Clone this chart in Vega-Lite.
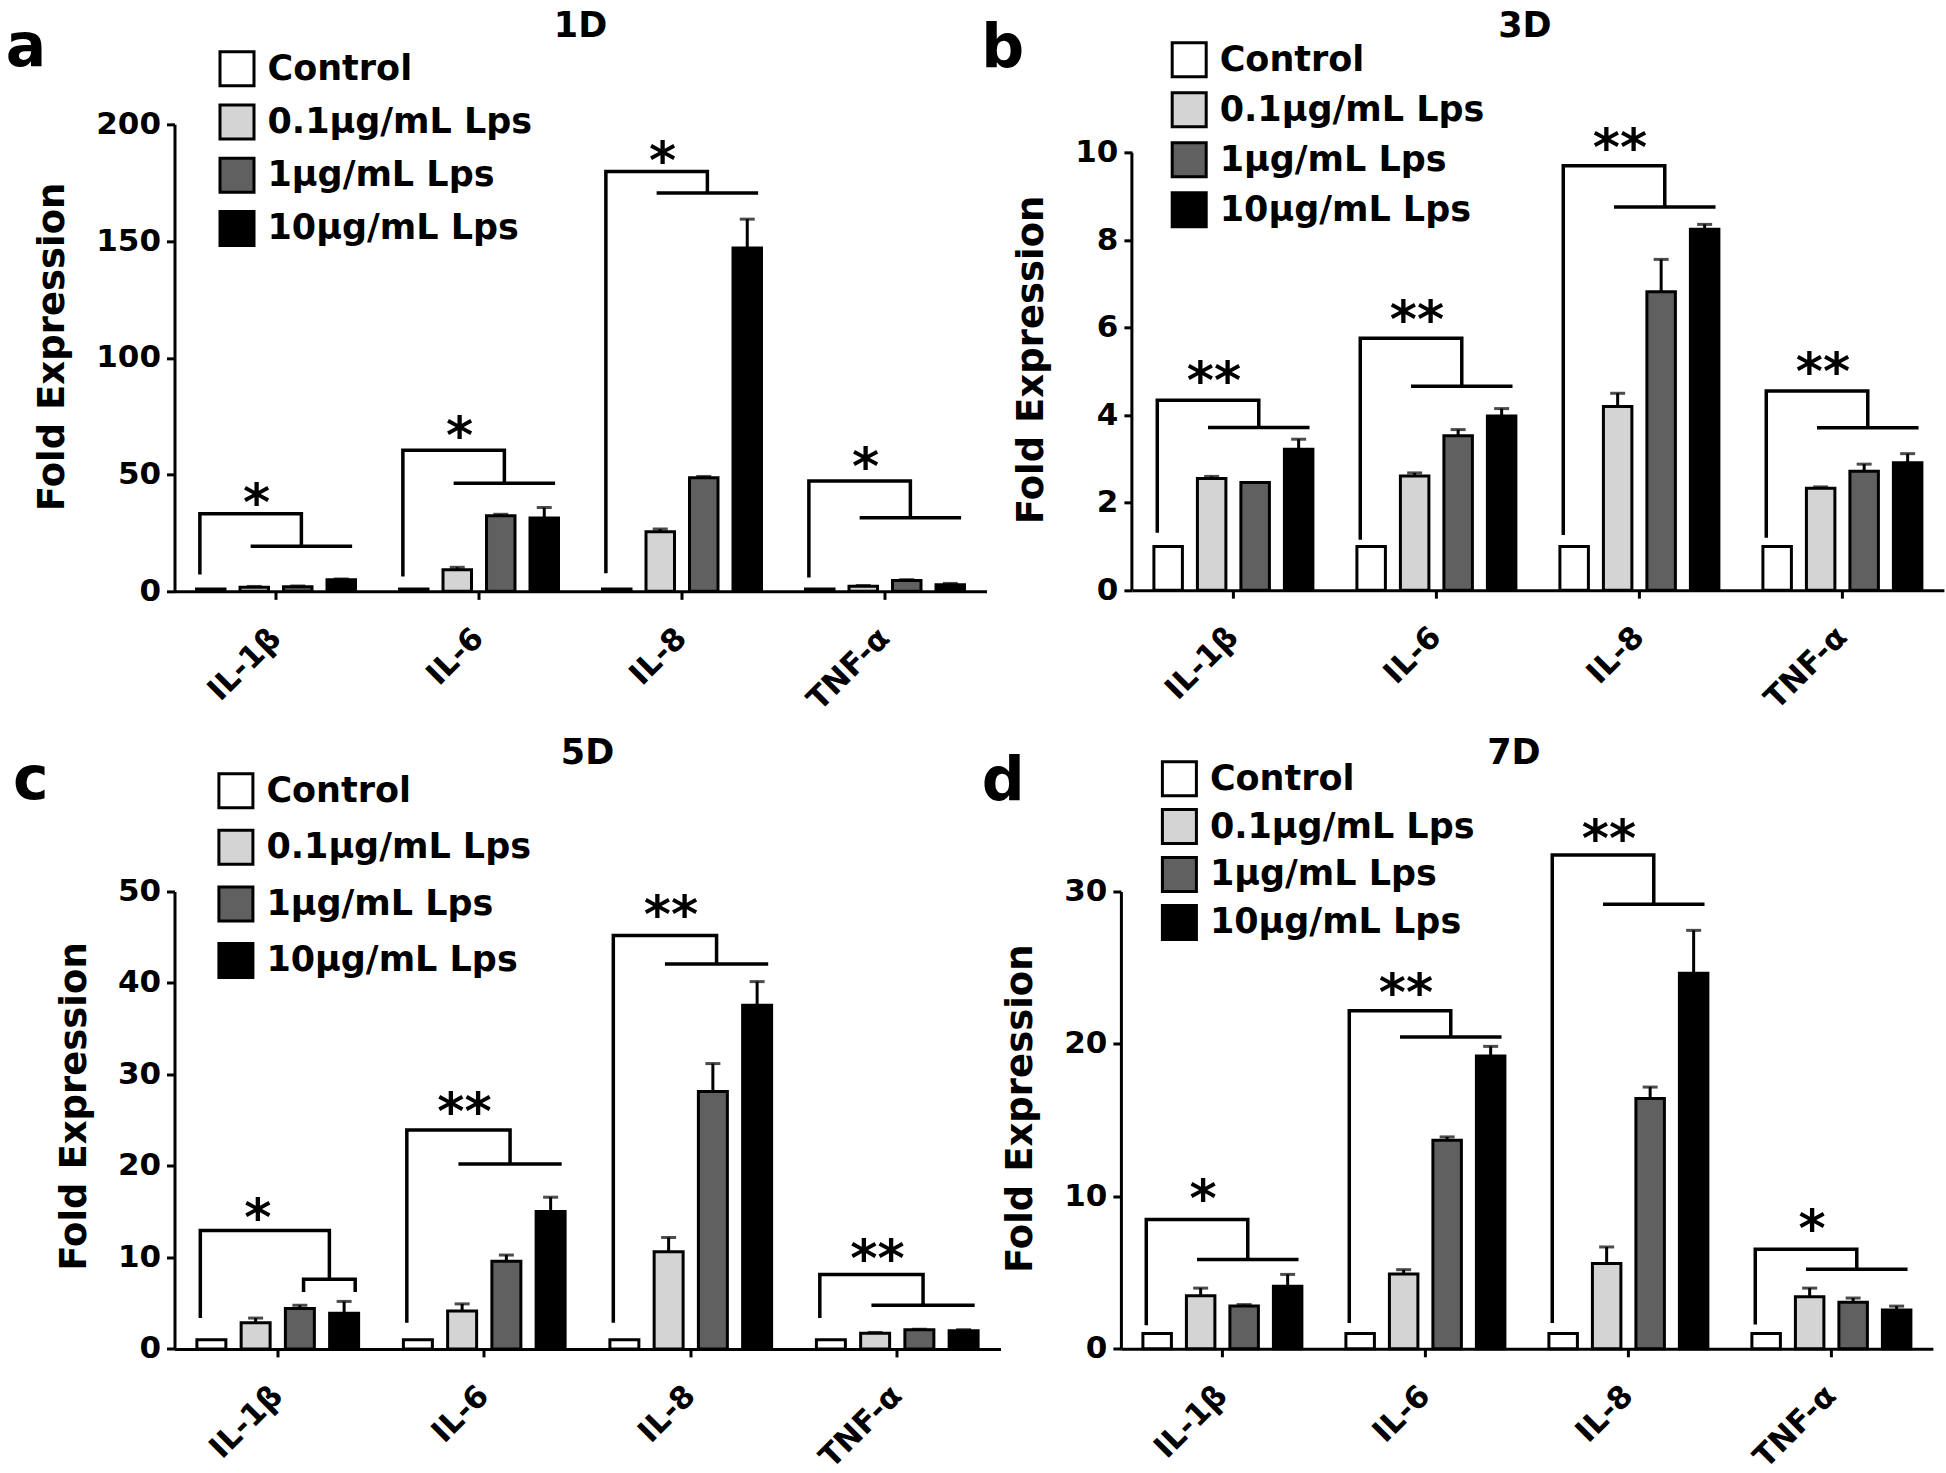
{
"$schema": "https://vega.github.io/schema/vega-lite/v6.json",
"background": "white",
"padding": {"left": 5.5, "top": 8.35, "right": 5, "bottom": 5},
"autosize": {"type": "pad"},
"config": {
  "view": {"stroke": null},
  "font": "DejaVu Sans",
  "axis": {"labelFont": "DejaVu Sans", "labelFontWeight": "bold", "labelFontSize": 31, "labelColor": "black", "titleFont": "DejaVu Sans", "titleFontWeight": "bold", "titleFontSize": 37, "titleColor": "black", "domainColor": "black", "domainWidth": 3, "tickColor": "black", "tickWidth": 3, "tickSize": 8, "grid": false},
  "axisX": {"labelAngle": -45, "labelPadding": 34, "labelBaseline": "middle", "labelAlign": "right"},
  "axisY": {"titlePadding": 24, "labelPadding": 6},
  "title": {"font": "DejaVu Sans", "fontWeight": "bold", "fontSize": 35, "color": "black"},
  "legend": {"labelFont": "DejaVu Sans", "labelFontSize": 35, "labelFontWeight": "bold", "labelColor": "black", "labelLimit": 600, "symbolType": "square", "symbolSize": 1156, "symbolStrokeColor": "black", "symbolStrokeWidth": 3, "labelOffset": 12, "padding": 0, "symbolOpacity": 1}
},
"resolve": {"scale": {"fill": "independent"}, "legend": {"fill": "independent"}},
"datasets": {
  "bA": [
    {"k":"IL-1β","g":"Control","v":1,"e":1},{"k":"IL-1β","g":"0.1μg/mL Lps","v":1.8,"e":2.1},{"k":"IL-1β","g":"1μg/mL Lps","v":2.0,"e":2.3},{"k":"IL-1β","g":"10μg/mL Lps","v":5.0,"e":5.3},
    {"k":"IL-6","g":"Control","v":1,"e":1},{"k":"IL-6","g":"0.1μg/mL Lps","v":9.3,"e":10.3},{"k":"IL-6","g":"1μg/mL Lps","v":32.4,"e":33.0},{"k":"IL-6","g":"10μg/mL Lps","v":31.4,"e":35.9},
    {"k":"IL-8","g":"Control","v":1,"e":1},{"k":"IL-8","g":"0.1μg/mL Lps","v":25.5,"e":26.7},{"k":"IL-8","g":"1μg/mL Lps","v":48.7,"e":49.2},{"k":"IL-8","g":"10μg/mL Lps","v":147.0,"e":159.4},
    {"k":"TNF-α","g":"Control","v":1,"e":1},{"k":"TNF-α","g":"0.1μg/mL Lps","v":2.2,"e":2.5},{"k":"TNF-α","g":"1μg/mL Lps","v":4.6,"e":5.0},{"k":"TNF-α","g":"10μg/mL Lps","v":2.8,"e":3.4}
  ],
  "bB": [
    {"k":"IL-1β","g":"Control","v":1,"e":1},{"k":"IL-1β","g":"0.1μg/mL Lps","v":2.55,"e":2.6},{"k":"IL-1β","g":"1μg/mL Lps","v":2.46,"e":2.46},{"k":"IL-1β","g":"10μg/mL Lps","v":3.22,"e":3.45},
    {"k":"IL-6","g":"Control","v":1,"e":1},{"k":"IL-6","g":"0.1μg/mL Lps","v":2.61,"e":2.68},{"k":"IL-6","g":"1μg/mL Lps","v":3.53,"e":3.67},{"k":"IL-6","g":"10μg/mL Lps","v":3.98,"e":4.15},
    {"k":"IL-8","g":"Control","v":1,"e":1},{"k":"IL-8","g":"0.1μg/mL Lps","v":4.2,"e":4.5},{"k":"IL-8","g":"1μg/mL Lps","v":6.82,"e":7.56},{"k":"IL-8","g":"10μg/mL Lps","v":8.25,"e":8.36},
    {"k":"TNF-α","g":"Control","v":1,"e":1},{"k":"TNF-α","g":"0.1μg/mL Lps","v":2.33,"e":2.36},{"k":"TNF-α","g":"1μg/mL Lps","v":2.72,"e":2.88},{"k":"TNF-α","g":"10μg/mL Lps","v":2.91,"e":3.12}
  ],
  "bC": [
    {"k":"IL-1β","g":"Control","v":1,"e":1},{"k":"IL-1β","g":"0.1μg/mL Lps","v":2.85,"e":3.37},{"k":"IL-1β","g":"1μg/mL Lps","v":4.41,"e":4.77},{"k":"IL-1β","g":"10μg/mL Lps","v":3.89,"e":5.19},
    {"k":"IL-6","g":"Control","v":1,"e":1},{"k":"IL-6","g":"0.1μg/mL Lps","v":4.14,"e":4.92},{"k":"IL-6","g":"1μg/mL Lps","v":9.59,"e":10.26},{"k":"IL-6","g":"10μg/mL Lps","v":15.03,"e":16.58},
    {"k":"IL-8","g":"Control","v":1,"e":1},{"k":"IL-8","g":"0.1μg/mL Lps","v":10.63,"e":12.18},{"k":"IL-8","g":"1μg/mL Lps","v":28.14,"e":31.19},{"k":"IL-8","g":"10μg/mL Lps","v":37.56,"e":40.15},
    {"k":"TNF-α","g":"Control","v":1,"e":1},{"k":"TNF-α","g":"0.1μg/mL Lps","v":1.72,"e":1.8},{"k":"TNF-α","g":"1μg/mL Lps","v":2.08,"e":2.15},{"k":"TNF-α","g":"10μg/mL Lps","v":1.97,"e":2.1}
  ],
  "bD": [
    {"k":"IL-1β","g":"Control","v":1,"e":1},{"k":"IL-1β","g":"0.1μg/mL Lps","v":3.48,"e":3.98},{"k":"IL-1β","g":"1μg/mL Lps","v":2.8,"e":2.9},{"k":"IL-1β","g":"10μg/mL Lps","v":4.1,"e":4.88},
    {"k":"IL-6","g":"Control","v":1,"e":1},{"k":"IL-6","g":"0.1μg/mL Lps","v":4.91,"e":5.19},{"k":"IL-6","g":"1μg/mL Lps","v":13.68,"e":13.9},{"k":"IL-6","g":"10μg/mL Lps","v":19.21,"e":19.84},
    {"k":"IL-8","g":"Control","v":1,"e":1},{"k":"IL-8","g":"0.1μg/mL Lps","v":5.6,"e":6.68},{"k":"IL-8","g":"1μg/mL Lps","v":16.42,"e":17.17},{"k":"IL-8","g":"10μg/mL Lps","v":24.63,"e":27.45},
    {"k":"TNF-α","g":"Control","v":1,"e":1},{"k":"TNF-α","g":"0.1μg/mL Lps","v":3.42,"e":3.98},{"k":"TNF-α","g":"1μg/mL Lps","v":3.05,"e":3.33},{"k":"TNF-α","g":"10μg/mL Lps","v":2.55,"e":2.8}
  ],
  "lA": [
    {"k":"IL-1β","s":"c","v":7.2,"seg":"1a","o":0},{"k":"IL-1β","s":"c","v":33.2,"seg":"1a","o":1},{"k":"IL-1β","s":"1","v":33.2,"seg":"1a","o":2},{"k":"IL-1β","s":"1","v":19.3,"seg":"1a","o":3},
    {"k":"IL-1β","s":"0.1","v":19.3,"seg":"1b","o":0},{"k":"IL-1β","s":"10","v":19.3,"seg":"1b","o":1},
    {"k":"IL-6","s":"c","v":6.4,"seg":"2a","o":0},{"k":"IL-6","s":"c","v":60.4,"seg":"2a","o":1},{"k":"IL-6","s":"1","v":60.4,"seg":"2a","o":2},{"k":"IL-6","s":"1","v":46.3,"seg":"2a","o":3},
    {"k":"IL-6","s":"0.1","v":46.3,"seg":"2b","o":0},{"k":"IL-6","s":"10","v":46.3,"seg":"2b","o":1},
    {"k":"IL-8","s":"c","v":7.8,"seg":"3a","o":0},{"k":"IL-8","s":"c","v":179.8,"seg":"3a","o":1},{"k":"IL-8","s":"1","v":179.8,"seg":"3a","o":2},{"k":"IL-8","s":"1","v":170.6,"seg":"3a","o":3},
    {"k":"IL-8","s":"0.1","v":170.6,"seg":"3b","o":0},{"k":"IL-8","s":"10","v":170.6,"seg":"3b","o":1},
    {"k":"TNF-α","s":"c","v":5.9,"seg":"4a","o":0},{"k":"TNF-α","s":"c","v":47.3,"seg":"4a","o":1},{"k":"TNF-α","s":"1","v":47.3,"seg":"4a","o":2},{"k":"TNF-α","s":"1","v":31.5,"seg":"4a","o":3},
    {"k":"TNF-α","s":"0.1","v":31.5,"seg":"4b","o":0},{"k":"TNF-α","s":"10","v":31.5,"seg":"4b","o":1}
  ],
  "lB": [
    {"k":"IL-1β","s":"c","v":1.31,"seg":"1a","o":0},{"k":"IL-1β","s":"c","v":4.34,"seg":"1a","o":1},{"k":"IL-1β","s":"1","v":4.34,"seg":"1a","o":2},{"k":"IL-1β","s":"1","v":3.72,"seg":"1a","o":3},
    {"k":"IL-1β","s":"0.1","v":3.72,"seg":"1b","o":0},{"k":"IL-1β","s":"10","v":3.72,"seg":"1b","o":1},
    {"k":"IL-6","s":"c","v":1.15,"seg":"2a","o":0},{"k":"IL-6","s":"c","v":5.76,"seg":"2a","o":1},{"k":"IL-6","s":"1","v":5.76,"seg":"2a","o":2},{"k":"IL-6","s":"1","v":4.66,"seg":"2a","o":3},
    {"k":"IL-6","s":"0.1","v":4.66,"seg":"2b","o":0},{"k":"IL-6","s":"10","v":4.66,"seg":"2b","o":1},
    {"k":"IL-8","s":"c","v":1.26,"seg":"3a","o":0},{"k":"IL-8","s":"c","v":9.7,"seg":"3a","o":1},{"k":"IL-8","s":"1","v":9.7,"seg":"3a","o":2},{"k":"IL-8","s":"1","v":8.76,"seg":"3a","o":3},
    {"k":"IL-8","s":"0.1","v":8.76,"seg":"3b","o":0},{"k":"IL-8","s":"10","v":8.76,"seg":"3b","o":1},
    {"k":"TNF-α","s":"c","v":1.2,"seg":"4a","o":0},{"k":"TNF-α","s":"c","v":4.55,"seg":"4a","o":1},{"k":"TNF-α","s":"1","v":4.55,"seg":"4a","o":2},{"k":"TNF-α","s":"1","v":3.71,"seg":"4a","o":3},
    {"k":"TNF-α","s":"0.1","v":3.71,"seg":"4b","o":0},{"k":"TNF-α","s":"10","v":3.71,"seg":"4b","o":1}
  ],
  "lC": [
    {"k":"IL-1β","s":"c","v":3.37,"seg":"1a","o":0},{"k":"IL-1β","s":"c","v":12.95,"seg":"1a","o":1},{"k":"IL-1β","s":"1|10","v":12.95,"seg":"1a","o":2},{"k":"IL-1β","s":"1|10","v":7.62,"seg":"1a","o":3},
    {"k":"IL-1β","s":"1","v":6.22,"seg":"1b","o":0},{"k":"IL-1β","s":"1","v":7.62,"seg":"1b","o":1},{"k":"IL-1β","s":"10","v":7.62,"seg":"1b","o":2},{"k":"IL-1β","s":"10","v":6.22,"seg":"1b","o":3},
    {"k":"IL-6","s":"c","v":2.85,"seg":"2a","o":0},{"k":"IL-6","s":"c","v":23.94,"seg":"2a","o":1},{"k":"IL-6","s":"1","v":23.94,"seg":"2a","o":2},{"k":"IL-6","s":"1","v":20.21,"seg":"2a","o":3},
    {"k":"IL-6","s":"0.1","v":20.21,"seg":"2b","o":0},{"k":"IL-6","s":"10","v":20.21,"seg":"2b","o":1},
    {"k":"IL-8","s":"c","v":2.85,"seg":"3a","o":0},{"k":"IL-8","s":"c","v":45.18,"seg":"3a","o":1},{"k":"IL-8","s":"1","v":45.18,"seg":"3a","o":2},{"k":"IL-8","s":"1","v":42.07,"seg":"3a","o":3},
    {"k":"IL-8","s":"0.1","v":42.07,"seg":"3b","o":0},{"k":"IL-8","s":"10","v":42.07,"seg":"3b","o":1},
    {"k":"TNF-α","s":"c","v":3.37,"seg":"4a","o":0},{"k":"TNF-α","s":"c","v":8.13,"seg":"4a","o":1},{"k":"TNF-α","s":"1","v":8.13,"seg":"4a","o":2},{"k":"TNF-α","s":"1","v":4.77,"seg":"4a","o":3},
    {"k":"TNF-α","s":"0.1","v":4.77,"seg":"4b","o":0},{"k":"TNF-α","s":"10","v":4.77,"seg":"4b","o":1}
  ],
  "lD": [
    {"k":"IL-1β","s":"c","v":1.55,"seg":"1a","o":0},{"k":"IL-1β","s":"c","v":8.48,"seg":"1a","o":1},{"k":"IL-1β","s":"1","v":8.48,"seg":"1a","o":2},{"k":"IL-1β","s":"1","v":5.85,"seg":"1a","o":3},
    {"k":"IL-1β","s":"0.1","v":5.85,"seg":"1b","o":0},{"k":"IL-1β","s":"10","v":5.85,"seg":"1b","o":1},
    {"k":"IL-6","s":"c","v":1.7,"seg":"2a","o":0},{"k":"IL-6","s":"c","v":22.17,"seg":"2a","o":1},{"k":"IL-6","s":"1","v":22.17,"seg":"2a","o":2},{"k":"IL-6","s":"1","v":20.46,"seg":"2a","o":3},
    {"k":"IL-6","s":"0.1","v":20.46,"seg":"2b","o":0},{"k":"IL-6","s":"10","v":20.46,"seg":"2b","o":1},
    {"k":"IL-8","s":"c","v":1.7,"seg":"3a","o":0},{"k":"IL-8","s":"c","v":32.4,"seg":"3a","o":1},{"k":"IL-8","s":"1","v":32.4,"seg":"3a","o":2},{"k":"IL-8","s":"1","v":29.17,"seg":"3a","o":3},
    {"k":"IL-8","s":"0.1","v":29.17,"seg":"3b","o":0},{"k":"IL-8","s":"10","v":29.17,"seg":"3b","o":1},
    {"k":"TNF-α","s":"c","v":1.6,"seg":"4a","o":0},{"k":"TNF-α","s":"c","v":6.53,"seg":"4a","o":1},{"k":"TNF-α","s":"1","v":6.53,"seg":"4a","o":2},{"k":"TNF-α","s":"1","v":5.22,"seg":"4a","o":3},
    {"k":"TNF-α","s":"0.1","v":5.22,"seg":"4b","o":0},{"k":"TNF-α","s":"10","v":5.22,"seg":"4b","o":1}
  ],
  "sA": [{"k":"IL-1β","s":"0.1","v":35.9,"t":"*"},{"k":"IL-6","s":"0.1","v":64.5,"t":"*"},{"k":"IL-8","s":"0.1","v":182.2,"t":"*"},{"k":"TNF-α","s":"0.1","v":51.3,"t":"*"}],
  "sB": [{"k":"IL-1β","s":"0.1","v":4.66,"t":"**"},{"k":"IL-6","s":"0.1","v":6.06,"t":"**"},{"k":"IL-8","s":"0.1","v":10.0,"t":"**"},{"k":"TNF-α","s":"0.1","v":4.87,"t":"**"}],
  "sC": [{"k":"IL-1β","s":"0.1","v":13.73,"t":"*"},{"k":"IL-6","s":"0.1","v":25.38,"t":"**"},{"k":"IL-8","s":"0.1","v":46.88,"t":"**"},{"k":"TNF-α","s":"0.1","v":9.32,"t":"**"}],
  "sD": [{"k":"IL-1β","s":"0.1","v":9.48,"t":"*"},{"k":"IL-6","s":"0.1","v":23.0,"t":"**"},{"k":"IL-8","s":"0.1","v":33.1,"t":"**"},{"k":"TNF-α","s":"0.1","v":7.52,"t":"*"}]
},
"columns": 2,
"align": "none",
"spacing": {"row": 19.15, "column": -19.6},
"concat": [
  {"title": {"text": "a", "anchor": "start", "frame": "bounds", "fontSize": 60, "baseline": "alphabetic", "offset": -117.2, "dx": -28},
   "resolve": {"scale": {"fill": "independent"}, "legend": {"fill": "independent"}},
   "hconcat": [{
    "title": {"text": "1D", "anchor": "middle", "frame": "group", "baseline": "alphabetic", "offset": -21.5},
    "width": 812, "height": 467,
    "resolve": {"scale": {"xOffset": "independent"}},
    "layer": [
     {"layer": [
      {"data": {"name": "bA"}, "mark": {"type": "bar", "stroke": "black", "strokeWidth": 3},
       "encoding": {
        "x": {"field": "k", "type": "nominal", "scale": {"domain": ["IL-1β","IL-6","IL-8","TNF-α"], "paddingInner": 0, "paddingOuter": 0}, "title": null},
        "xOffset": {"field": "g", "type": "nominal", "scale": {"domain": ["Control","0.1μg/mL Lps","1μg/mL Lps","10μg/mL Lps"], "paddingInner": 0.345, "paddingOuter": 0.506}},
        "y": {"field": "v", "type": "quantitative", "scale": {"domain": [0, 200], "nice": false}, "title": "Fold Expression", "axis": {"values": [0, 50, 100, 150, 200], "titleY": 222}},
        "fill": {"field": "g", "type": "nominal", "scale": {"domain": ["Control","0.1μg/mL Lps","1μg/mL Lps","10μg/mL Lps"], "range": ["#ffffff","#d4d4d4","#606060","#000000"]}, "legend": {"orient": "none", "legendX": 44, "legendY": -74, "rowPadding": 6.2, "title": null}}
       }},
      {"data": {"name": "bA"}, "transform": [{"filter": "datum.e > datum.v"}], "mark": {"type": "rule", "color": "black", "strokeWidth": 3},
       "encoding": {
        "x": {"field": "k", "type": "nominal", "title": null},
        "xOffset": {"field": "g", "type": "nominal"},
        "y": {"field": "v", "type": "quantitative", "title": "Fold Expression"},
        "y2": {"field": "e"}
       }},
      {"data": {"name": "bA"}, "transform": [{"filter": "datum.e > datum.v"}], "mark": {"type": "tick", "color": "black", "thickness": 3, "size": 15},
       "encoding": {
        "x": {"field": "k", "type": "nominal", "title": null},
        "xOffset": {"field": "g", "type": "nominal"},
        "y": {"field": "e", "type": "quantitative", "title": "Fold Expression"}
       }}
     ]},
     {"layer": [
      {"data": {"name": "lA"}, "mark": {"type": "line", "color": "black", "strokeWidth": 3.5, "strokeJoin": "miter"},
       "encoding": {
        "x": {"field": "k", "type": "nominal", "title": null},
        "xOffset": {"field": "s", "type": "nominal", "scale": {"type": "point", "domain": ["c","c|0.1","0.1","0.1|1","1","1|10","10"], "padding": 1.667}},
        "y": {"field": "v", "type": "quantitative", "title": "Fold Expression"},
        "detail": {"field": "seg", "type": "nominal"},
        "order": {"field": "o", "type": "quantitative"}
       }},
      {"data": {"name": "sA"}, "mark": {"type": "text", "fontSize": 52, "fontWeight": "bold", "align": "center", "baseline": "alphabetic", "dy": 12, "dx": 6, "color": "black"},
       "encoding": {
        "x": {"field": "k", "type": "nominal", "title": null},
        "xOffset": {"field": "s", "type": "nominal"},
        "y": {"field": "v", "type": "quantitative", "title": "Fold Expression"},
        "text": {"field": "t", "type": "nominal"}
       }}
     ]}
    ]
   }]
  },
  {"title": {"text": "b", "anchor": "start", "frame": "bounds", "fontSize": 60, "baseline": "alphabetic", "offset": -118.25, "dx": -31.6},
   "resolve": {"scale": {"fill": "independent"}, "legend": {"fill": "independent"}},
   "hconcat": [{
    "title": {"text": "3D", "anchor": "middle", "frame": "group", "baseline": "alphabetic", "offset": -30.9, "dx": -13},
    "width": 812, "height": 465.8,
    "resolve": {"scale": {"xOffset": "independent"}},
    "layer": [
     {"layer": [
      {"data": {"name": "bB"}, "mark": {"type": "bar", "stroke": "black", "strokeWidth": 3},
       "encoding": {
        "x": {"field": "k", "type": "nominal", "scale": {"domain": ["IL-1β","IL-6","IL-8","TNF-α"], "paddingInner": 0, "paddingOuter": 0}, "title": null},
        "xOffset": {"field": "g", "type": "nominal", "scale": {"domain": ["Control","0.1μg/mL Lps","1μg/mL Lps","10μg/mL Lps"], "paddingInner": 0.345, "paddingOuter": 0.506}},
        "y": {"field": "v", "type": "quantitative", "scale": {"domain": [0, 10.647], "nice": false}, "title": "Fold Expression", "axis": {"values": [0, 2, 4, 6, 8, 10], "domain": false, "titleY": 235}},
        "fill": {"field": "g", "type": "nominal", "scale": {"domain": ["Control","0.1μg/mL Lps","1μg/mL Lps","10μg/mL Lps"], "range": ["#ffffff","#d4d4d4","#606060","#000000"]}, "legend": {"orient": "none", "legendX": 38.8, "legendY": -83, "rowPadding": 3, "title": null}}
       }},
      {"data": {"name": "bB"}, "transform": [{"aggregate": [{"op": "max", "field": "v", "as": "vmax"}]}], "mark": {"type": "rule", "color": "black", "strokeWidth": 3},
       "encoding": {
        "x": {"datum": "IL-1β", "type": "nominal", "bandPosition": 0, "title": null},
        "y": {"datum": 0, "type": "quantitative", "title": "Fold Expression"},
        "y2": {"datum": 10}
       }},
      {"data": {"name": "bB"}, "transform": [{"filter": "datum.e > datum.v"}], "mark": {"type": "rule", "color": "black", "strokeWidth": 3},
       "encoding": {
        "x": {"field": "k", "type": "nominal", "title": null},
        "xOffset": {"field": "g", "type": "nominal"},
        "y": {"field": "v", "type": "quantitative", "title": "Fold Expression"},
        "y2": {"field": "e"}
       }},
      {"data": {"name": "bB"}, "transform": [{"filter": "datum.e > datum.v"}], "mark": {"type": "tick", "color": "black", "thickness": 3, "size": 15},
       "encoding": {
        "x": {"field": "k", "type": "nominal", "title": null},
        "xOffset": {"field": "g", "type": "nominal"},
        "y": {"field": "e", "type": "quantitative", "title": "Fold Expression"}
       }}
     ]},
     {"layer": [
      {"data": {"name": "lB"}, "mark": {"type": "line", "color": "black", "strokeWidth": 3.5, "strokeJoin": "miter"},
       "encoding": {
        "x": {"field": "k", "type": "nominal", "title": null},
        "xOffset": {"field": "s", "type": "nominal", "scale": {"type": "point", "domain": ["c","c|0.1","0.1","0.1|1","1","1|10","10"], "padding": 1.667}},
        "y": {"field": "v", "type": "quantitative", "title": "Fold Expression"},
        "detail": {"field": "seg", "type": "nominal"},
        "order": {"field": "o", "type": "quantitative"}
       }},
      {"data": {"name": "sB"}, "mark": {"type": "text", "fontSize": 52, "fontWeight": "bold", "align": "center", "baseline": "alphabetic", "dy": 12, "dx": 6, "color": "black"},
       "encoding": {
        "x": {"field": "k", "type": "nominal", "title": null},
        "xOffset": {"field": "s", "type": "nominal"},
        "y": {"field": "v", "type": "quantitative", "title": "Fold Expression"},
        "text": {"field": "t", "type": "nominal"}
       }}
     ]}
    ]
   }]
  },
  {"title": {"text": "c", "anchor": "start", "frame": "bounds", "fontSize": 60, "baseline": "alphabetic", "offset": -122.5, "dx": -42.4},
   "resolve": {"scale": {"fill": "independent"}, "legend": {"fill": "independent"}},
   "hconcat": [{
    "title": {"text": "5D", "anchor": "middle", "frame": "group", "baseline": "alphabetic", "offset": -27.2},
    "width": 826, "height": 457.4,
    "resolve": {"scale": {"xOffset": "independent"}},
    "layer": [
     {"layer": [
      {"data": {"name": "bC"}, "mark": {"type": "bar", "stroke": "black", "strokeWidth": 3},
       "encoding": {
        "x": {"field": "k", "type": "nominal", "scale": {"domain": ["IL-1β","IL-6","IL-8","TNF-α"], "paddingInner": 0, "paddingOuter": 0}, "title": null},
        "xOffset": {"field": "g", "type": "nominal", "scale": {"domain": ["Control","0.1μg/mL Lps","1μg/mL Lps","10μg/mL Lps"], "paddingInner": 0.345, "paddingOuter": 0.506}},
        "y": {"field": "v", "type": "quantitative", "scale": {"domain": [0, 50], "nice": false}, "title": "Fold Expression", "axis": {"values": [0, 10, 20, 30, 40, 50], "titleY": 214.5}},
        "fill": {"field": "g", "type": "nominal", "scale": {"domain": ["Control","0.1μg/mL Lps","1μg/mL Lps","10μg/mL Lps"], "range": ["#ffffff","#d4d4d4","#606060","#000000"]}, "legend": {"orient": "none", "legendX": 42.9, "legendY": -119.3, "rowPadding": 9.6, "title": null}}
       }},
      {"data": {"name": "bC"}, "transform": [{"filter": "datum.e > datum.v"}], "mark": {"type": "rule", "color": "black", "strokeWidth": 3},
       "encoding": {
        "x": {"field": "k", "type": "nominal", "title": null},
        "xOffset": {"field": "g", "type": "nominal"},
        "y": {"field": "v", "type": "quantitative", "title": "Fold Expression"},
        "y2": {"field": "e"}
       }},
      {"data": {"name": "bC"}, "transform": [{"filter": "datum.e > datum.v"}], "mark": {"type": "tick", "color": "black", "thickness": 3, "size": 15},
       "encoding": {
        "x": {"field": "k", "type": "nominal", "title": null},
        "xOffset": {"field": "g", "type": "nominal"},
        "y": {"field": "e", "type": "quantitative", "title": "Fold Expression"}
       }}
     ]},
     {"layer": [
      {"data": {"name": "lC"}, "mark": {"type": "line", "color": "black", "strokeWidth": 3.5, "strokeJoin": "miter"},
       "encoding": {
        "x": {"field": "k", "type": "nominal", "title": null},
        "xOffset": {"field": "s", "type": "nominal", "scale": {"type": "point", "domain": ["c","c|0.1","0.1","0.1|1","1","1|10","10"], "padding": 1.667}},
        "y": {"field": "v", "type": "quantitative", "title": "Fold Expression"},
        "detail": {"field": "seg", "type": "nominal"},
        "order": {"field": "o", "type": "quantitative"}
       }},
      {"data": {"name": "sC"}, "mark": {"type": "text", "fontSize": 52, "fontWeight": "bold", "align": "center", "baseline": "alphabetic", "dy": 12, "dx": 6, "color": "black"},
       "encoding": {
        "x": {"field": "k", "type": "nominal", "title": null},
        "xOffset": {"field": "s", "type": "nominal"},
        "y": {"field": "v", "type": "quantitative", "title": "Fold Expression"},
        "text": {"field": "t", "type": "nominal"}
       }}
     ]}
    ]
   }]
  },
  {"title": {"text": "d", "anchor": "start", "frame": "bounds", "fontSize": 60, "baseline": "alphabetic", "offset": -124, "dx": -20},
   "resolve": {"scale": {"fill": "independent"}, "legend": {"fill": "independent"}},
   "hconcat": [{
    "title": {"text": "7D", "anchor": "middle", "frame": "group", "baseline": "alphabetic", "offset": -39.2, "dx": -13},
    "width": 812, "height": 457.3,
    "resolve": {"scale": {"xOffset": "independent"}},
    "layer": [
     {"layer": [
      {"data": {"name": "bD"}, "mark": {"type": "bar", "stroke": "black", "strokeWidth": 3},
       "encoding": {
        "x": {"field": "k", "type": "nominal", "scale": {"domain": ["IL-1β","IL-6","IL-8","TNF-α"], "paddingInner": 0, "paddingOuter": 0}, "title": null},
        "xOffset": {"field": "g", "type": "nominal", "scale": {"domain": ["Control","0.1μg/mL Lps","1μg/mL Lps","10μg/mL Lps"], "paddingInner": 0.345, "paddingOuter": 0.506}},
        "y": {"field": "v", "type": "quantitative", "scale": {"domain": [0, 30], "nice": false}, "title": "Fold Expression", "axis": {"values": [0, 10, 20, 30], "titleY": 216.7}},
        "fill": {"field": "g", "type": "nominal", "scale": {"domain": ["Control","0.1μg/mL Lps","1μg/mL Lps","10μg/mL Lps"], "range": ["#ffffff","#d4d4d4","#606060","#000000"]}, "legend": {"orient": "none", "legendX": 40, "legendY": -131.3, "rowPadding": 0.9, "title": null}}
       }},
      {"data": {"name": "bD"}, "transform": [{"filter": "datum.e > datum.v"}], "mark": {"type": "rule", "color": "black", "strokeWidth": 3},
       "encoding": {
        "x": {"field": "k", "type": "nominal", "title": null},
        "xOffset": {"field": "g", "type": "nominal"},
        "y": {"field": "v", "type": "quantitative", "title": "Fold Expression"},
        "y2": {"field": "e"}
       }},
      {"data": {"name": "bD"}, "transform": [{"filter": "datum.e > datum.v"}], "mark": {"type": "tick", "color": "black", "thickness": 3, "size": 15},
       "encoding": {
        "x": {"field": "k", "type": "nominal", "title": null},
        "xOffset": {"field": "g", "type": "nominal"},
        "y": {"field": "e", "type": "quantitative", "title": "Fold Expression"}
       }}
     ]},
     {"layer": [
      {"data": {"name": "lD"}, "mark": {"type": "line", "color": "black", "strokeWidth": 3.5, "strokeJoin": "miter"},
       "encoding": {
        "x": {"field": "k", "type": "nominal", "title": null},
        "xOffset": {"field": "s", "type": "nominal", "scale": {"type": "point", "domain": ["c","c|0.1","0.1","0.1|1","1","1|10","10"], "padding": 1.667}},
        "y": {"field": "v", "type": "quantitative", "title": "Fold Expression"},
        "detail": {"field": "seg", "type": "nominal"},
        "order": {"field": "o", "type": "quantitative"}
       }},
      {"data": {"name": "sD"}, "mark": {"type": "text", "fontSize": 52, "fontWeight": "bold", "align": "center", "baseline": "alphabetic", "dy": 12, "dx": 6, "color": "black"},
       "encoding": {
        "x": {"field": "k", "type": "nominal", "title": null},
        "xOffset": {"field": "s", "type": "nominal"},
        "y": {"field": "v", "type": "quantitative", "title": "Fold Expression"},
        "text": {"field": "t", "type": "nominal"}
       }}
     ]}
    ]
   }]
  }
]
}
